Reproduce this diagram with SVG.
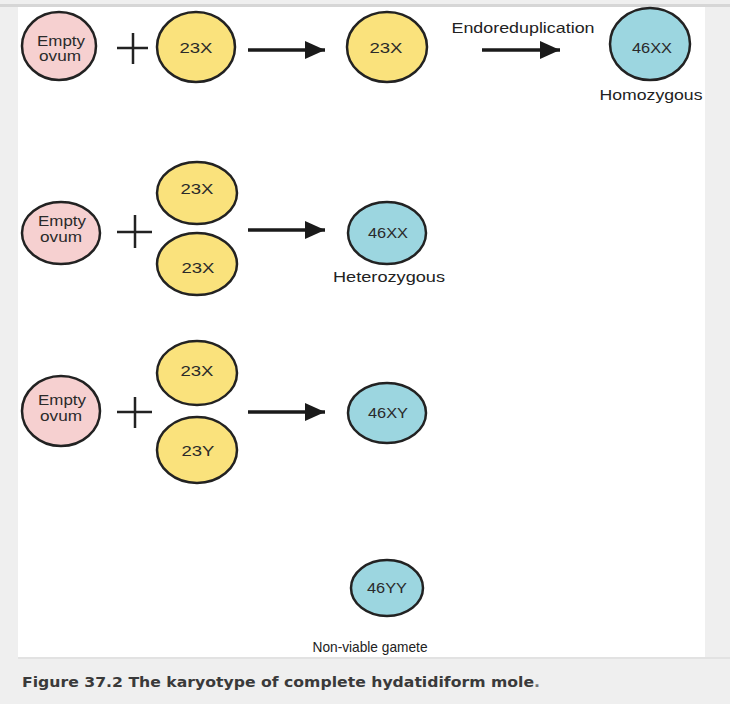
<svg xmlns="http://www.w3.org/2000/svg" width="730" height="704" viewBox="0 0 730 704">
<defs>
<marker id="ah" markerUnits="userSpaceOnUse" markerWidth="22" markerHeight="18" refX="20" refY="9" orient="auto">
<path d="M0,0 L20,9 L0,18 Z" fill="#1a1a1a"/>
</marker>
<style>
.ov{fill:#f6d0d0;stroke:#222;stroke-width:2.5}
.ye{fill:#fae27c;stroke:#222;stroke-width:2.5}
.bl{fill:#9cd6e0;stroke:#222;stroke-width:2.5}
.t{font-family:"Liberation Sans",Arial,sans-serif;font-size:14px;fill:#2a2a2a;text-anchor:middle}
.lb{font-family:"Liberation Sans",Arial,sans-serif;font-size:15px;fill:#222;text-anchor:middle}
.pl{stroke:#222;stroke-width:2.5;fill:none}
.ar{stroke:#1a1a1a;stroke-width:3.5;fill:none;marker-end:url(#ah)}
</style>
</defs>
<rect x="0" y="0" width="730" height="704" fill="#efefef"/>
<rect x="0" y="4" width="730" height="3" fill="#d6d6d6"/>
<rect x="18" y="7" width="687" height="650" fill="#ffffff"/>
<rect x="18" y="657" width="712" height="2" fill="#e2e2e2"/>

<g id="connectors">
<path class="pl" d="M117,48 H148 M133,33 V64"/>
<path class="pl" d="M117,232 H152 M135,215 V248"/>
<path class="pl" d="M117,412 H152 M135,397 V428"/>
<line class="ar" x1="248" y1="50" x2="325" y2="50"/>
<line class="ar" x1="482" y1="50" x2="560" y2="50"/>
<line class="ar" x1="248" y1="230" x2="325" y2="230"/>
<line class="ar" x1="248" y1="412" x2="325" y2="412"/>
<text class="lb" x="523" y="33" textLength="143" lengthAdjust="spacingAndGlyphs">Endoreduplication</text>
</g>

<g id="ovum1"><ellipse class="ov" cx="59" cy="46" rx="37" ry="34"/><text class="t" x="61" y="46" textLength="48" lengthAdjust="spacingAndGlyphs">Empty</text><text class="t" x="60" y="61" textLength="42" lengthAdjust="spacingAndGlyphs">ovum</text></g>
<g id="sperm1"><ellipse class="ye" cx="196" cy="47" rx="39" ry="35"/><text class="t" x="196" y="53" textLength="33" lengthAdjust="spacingAndGlyphs">23X</text></g>
<g id="haploid1"><ellipse class="ye" cx="387" cy="47" rx="40" ry="35"/><text class="t" x="386" y="53" textLength="33" lengthAdjust="spacingAndGlyphs">23X</text></g>
<g id="result1"><ellipse class="bl" cx="650" cy="44" rx="40" ry="36"/><text class="t" x="652" y="53" textLength="40" lengthAdjust="spacingAndGlyphs">46XX</text><text class="lb" x="651" y="100" textLength="103" lengthAdjust="spacingAndGlyphs">Homozygous</text></g>

<g id="ovum2"><ellipse class="ov" cx="61" cy="233" rx="39" ry="31"/><text class="t" x="62" y="226" textLength="48" lengthAdjust="spacingAndGlyphs">Empty</text><text class="t" x="61" y="242" textLength="42" lengthAdjust="spacingAndGlyphs">ovum</text></g>
<g id="sperm2a"><ellipse class="ye" cx="197" cy="193" rx="40" ry="31"/><text class="t" x="197" y="194" textLength="33" lengthAdjust="spacingAndGlyphs">23X</text></g>
<g id="sperm2b"><ellipse class="ye" cx="197" cy="264" rx="40" ry="31"/><text class="t" x="198" y="273" textLength="33" lengthAdjust="spacingAndGlyphs">23X</text></g>
<g id="result2"><ellipse class="bl" cx="387" cy="233" rx="39" ry="31"/><text class="t" x="388" y="238" textLength="40" lengthAdjust="spacingAndGlyphs">46XX</text><text class="lb" x="389" y="282" textLength="112" lengthAdjust="spacingAndGlyphs">Heterozygous</text></g>

<g id="ovum3"><ellipse class="ov" cx="61" cy="411" rx="39" ry="35"/><text class="t" x="62" y="405" textLength="48" lengthAdjust="spacingAndGlyphs">Empty</text><text class="t" x="61" y="421" textLength="42" lengthAdjust="spacingAndGlyphs">ovum</text></g>
<g id="sperm3a"><ellipse class="ye" cx="197" cy="373" rx="40" ry="32"/><text class="t" x="197" y="376" textLength="33" lengthAdjust="spacingAndGlyphs">23X</text></g>
<g id="sperm3b"><ellipse class="ye" cx="197" cy="450" rx="40" ry="33"/><text class="t" x="198" y="456" textLength="33" lengthAdjust="spacingAndGlyphs">23Y</text></g>
<g id="result3"><ellipse class="bl" cx="387" cy="413" rx="39" ry="30"/><text class="t" x="388" y="418" textLength="40" lengthAdjust="spacingAndGlyphs">46XY</text></g>

<g id="result4"><ellipse class="bl" cx="387" cy="588" rx="36" ry="28"/><text class="t" x="387" y="593" textLength="40" lengthAdjust="spacingAndGlyphs">46YY</text><text class="lb" x="370" y="652" textLength="115" lengthAdjust="spacingAndGlyphs">Non-viable gamete</text></g>

<text x="22" y="687" font-family="DejaVu Sans, Verdana, sans-serif" font-weight="bold" font-size="14" fill="#3a3a3a" textLength="518" lengthAdjust="spacingAndGlyphs">Figure 37.2 The karyotype of complete hydatidiform mole<tspan fill="#777">.</tspan></text>
</svg>
